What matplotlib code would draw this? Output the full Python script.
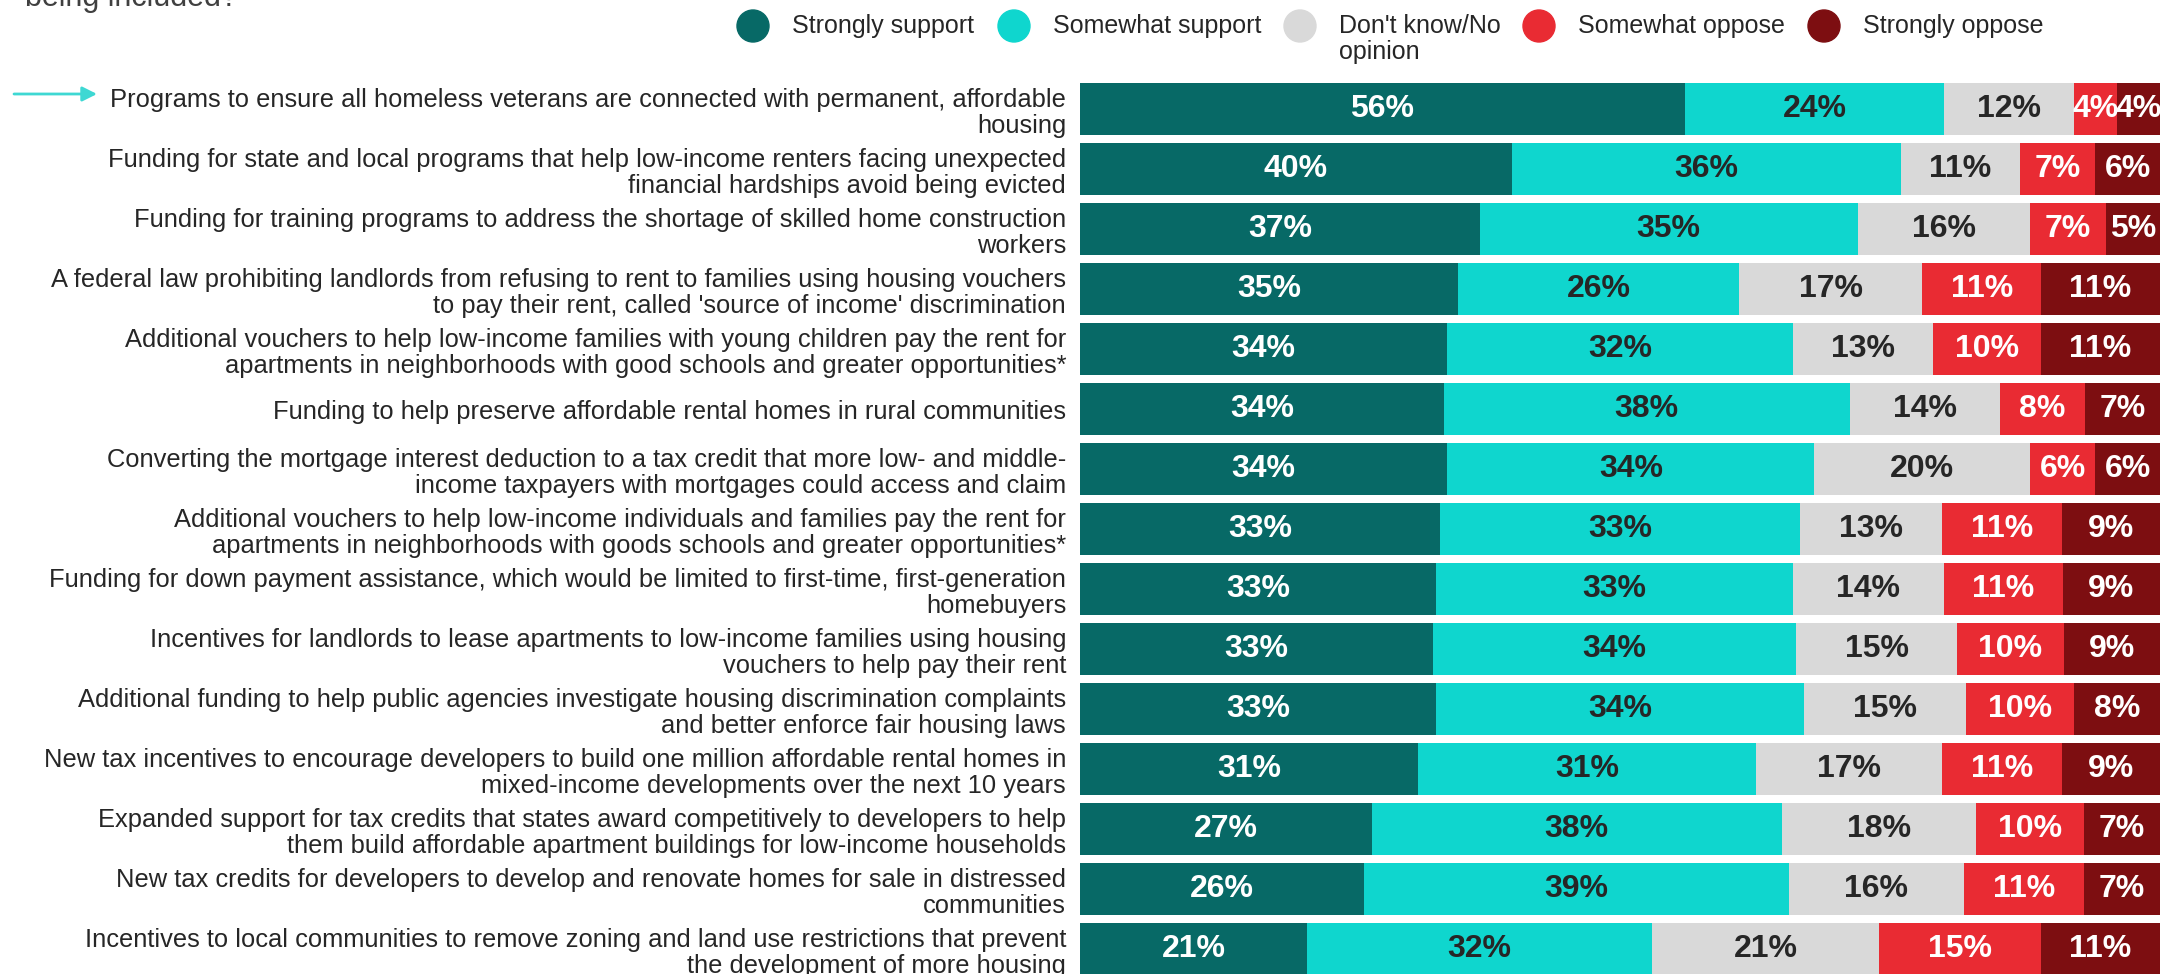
import numpy as np
import matplotlib.pyplot as plt
from matplotlib.patches import Ellipse

plt.rcParams['font.family'] = ['Liberation Sans', 'DejaVu Sans']

# survey items, top to bottom
items = [
    "Programs to ensure all homeless veterans are connected with permanent, affordable\nhousing",
    "Funding for state and local programs that help low-income renters facing unexpected\nfinancial hardships avoid being evicted",
    "Funding for training programs to address the shortage of skilled home construction\nworkers",
    "A federal law prohibiting landlords from refusing to rent to families using housing vouchers\nto pay their rent, called 'source of income' discrimination",
    "Additional vouchers to help low-income families with young children pay the rent for\napartments in neighborhoods with good schools and greater opportunities*",
    "Funding to help preserve affordable rental homes in rural communities",
    "Converting the mortgage interest deduction to a tax credit that more low- and middle-\nincome taxpayers with mortgages could access and claim",
    "Additional vouchers to help low-income individuals and families pay the rent for\napartments in neighborhoods with goods schools and greater opportunities*",
    "Funding for down payment assistance, which would be limited to first-time, first-generation\nhomebuyers",
    "Incentives for landlords to lease apartments to low-income families using housing\nvouchers to help pay their rent",
    "Additional funding to help public agencies investigate housing discrimination complaints\nand better enforce fair housing laws",
    "New tax incentives to encourage developers to build one million affordable rental homes in\nmixed-income developments over the next 10 years",
    "Expanded support for tax credits that states award competitively to developers to help\nthem build affordable apartment buildings for low-income households",
    "New tax credits for developers to develop and renovate homes for sale in distressed\ncommunities",
    "Incentives to local communities to remove zoning and land use restrictions that prevent\nthe development of more housing",
]

categories = ["Strongly support", "Somewhat support", "Don't know/No\nopinion",
              "Somewhat oppose", "Strongly oppose"]

strongly_support = [56, 40, 37, 35, 34, 34, 34, 33, 33, 33, 33, 31, 27, 26, 21]
somewhat_support = [24, 36, 35, 26, 32, 38, 34, 33, 33, 34, 34, 31, 38, 39, 32]
dont_know = [12, 11, 16, 17, 13, 14, 20, 13, 14, 15, 15, 17, 18, 16, 21]
somewhat_oppose = [4, 7, 7, 11, 10, 8, 6, 11, 11, 10, 10, 11, 10, 11, 15]
strongly_oppose = [4, 6, 5, 11, 11, 7, 6, 9, 9, 9, 8, 9, 7, 7, 11]

colors = ['#076966', '#0fd6ce', '#d9d9d9', '#e92b33', '#7d0e11']
txt_colors = ['white', '#262626', '#262626', 'white', 'white']

W, H = 2160, 974
fig = plt.figure(figsize=(W / 100, H / 100), dpi=100)
ax = fig.add_axes([1080 / W, 0, 1 - 1080 / W, 1 - 79 / H])

data = np.array([strongly_support, somewhat_support, dont_know,
                 somewhat_oppose, strongly_oppose], dtype=float)
shares = data / data.sum(axis=0) * 100  # bars fill the full width
y = np.arange(len(items))
left = np.zeros(len(items))
for k in range(len(categories)):
    ax.barh(y, shares[k], left=left, height=0.87, color=colors[k], edgecolor='none')
    for i in range(len(items)):
        ax.text(left[i] + shares[k][i] / 2, y[i], f"{int(data[k][i])}%",
                ha='center', va='center', fontsize=23, fontweight='bold',
                color=txt_colors[k])
    left += shares[k]

ax.set_xlim(0, 100)
ax.set_ylim(14 + 25 / 60, -0.5)
ax.set_yticks(y)
ax.set_yticklabels(items, fontsize=18.4, color='#262626', linespacing=1.13)
ax.tick_params(axis='y', length=0, pad=10)
ax.set_xticks([])
for s in ax.spines.values():
    s.set_visible(False)

# legend drawn by hand along the top
circ_x = [753, 1014, 1300, 1539, 1824]
for k, lab in enumerate(categories):
    fig.add_artist(Ellipse((circ_x[k] / W, 1 - 26 / H), 32 / W, 32 / H,
                           transform=fig.transFigure, color=colors[k]))
    fig.text((circ_x[k] + 39) / W, 1 - 14 / H, lab, fontsize=18, color='#262626',
             va='top', ha='left', linespacing=1.12)

# cut-off question line
fig.text(25 / W, 1 - 6 / H, "being included?", fontsize=22, color='#404040',
         va='baseline')

# arrow pointing at the first item
arrow_y = 1 - 94 / H
fig.add_artist(plt.Annotation('', xy=(97 / W, arrow_y), xytext=(14 / W, arrow_y),
                              xycoords='figure fraction', textcoords='figure fraction',
                              arrowprops=dict(arrowstyle='-|>', color='#3ed8d3', lw=2,
                                              mutation_scale=22, shrinkA=0, shrinkB=0)))

fig.savefig('out.png', dpi=100)
